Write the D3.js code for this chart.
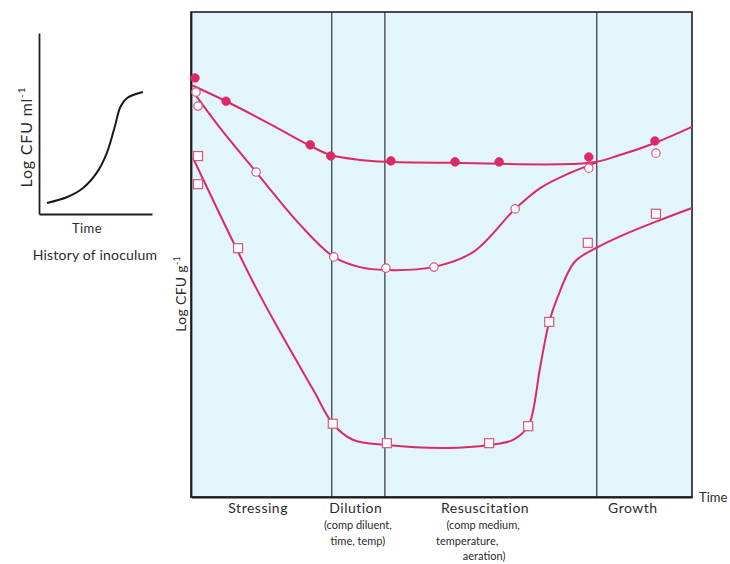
<!DOCTYPE html>
<html>
<head>
<meta charset="utf-8">
<script src="https://cdn.jsdelivr.net/npm/d3@7"></script>
<style>
  html, body { margin: 0; padding: 0; background: #ffffff; }
  svg { display: block; }
  text { font-family: Lato, "DejaVu Sans", sans-serif; fill: #2b2b2b; }
</style>
</head>
<body>
<svg id="chart" width="730" height="564"></svg>
<script>
// ---------------- DATA ----------------
// Main chart: time (0-100) vs log CFU/g (0-10)
const phaseBounds = [28.1, 38.7, 81.0];
const phaseLabels = [
  { x: 13.4, lines: ["Stressing"] },
  { x: 32.9, lines: ["Dilution", "(comp diluent,", "time, temp)"] },
  { x: 58.7, lines: ["Resuscitation", "(comp medium,", "temperature,", "aeration)"] },
  { x: 88.2, lines: ["Growth"] }
];

// Series 1: filled circles
const filledX = [0.8, 7.0, 23.8, 27.9, 39.9, 52.7, 61.5, 79.4, 92.6];
const filledY = [8.64, 8.16, 7.26, 7.03, 6.93, 6.91, 6.91, 7.01, 7.34];
const filledCurveX = [0.2, 7.0, 15.8, 23.8, 27.9, 33.7, 38.9, 51.7, 79.6, 85.6, 92.6, 100];
const filledCurveY = [8.49, 8.16, 7.69, 7.24, 7.05, 6.95, 6.91, 6.89, 6.89, 7.05, 7.30, 7.63];

// Series 2: open circles
const openX = [1.0, 1.4, 13.0, 28.5, 38.9, 48.5, 64.7, 79.4, 92.8];
const openY = [8.35, 8.06, 6.70, 4.95, 4.72, 4.74, 5.94, 6.78, 7.09];
const openCurveX = [0.2, 5.8, 13.0, 21.8, 28.5, 33.7, 38.9, 48.3, 56.3, 64.7, 69.7, 75.6, 80.8];
const openCurveY = [8.39, 7.61, 6.70, 5.61, 4.95, 4.74, 4.68, 4.74, 5.05, 5.94, 6.37, 6.68, 6.89];

// Series 3: open squares
const squareX = [1.4, 1.4, 9.4, 28.3, 39.1, 59.5, 67.3, 71.5, 79.2, 92.8];
const squareY = [7.03, 6.45, 5.13, 1.51, 1.11, 1.11, 1.46, 3.61, 5.24, 5.84];
const squareCurveX = [0.4, 12.2, 17.8, 24.4, 28.3, 32.3, 39.1, 51.1, 59.5, 64.3, 67.3, 68.3, 69.7, 71.5, 73.1, 76.6, 80.8, 86.2, 93.6, 100];
const squareCurveY = [6.99, 4.47, 3.40, 2.21, 1.51, 1.18, 1.07, 1.01, 1.07, 1.18, 1.46, 1.79, 2.68, 3.61, 4.10, 4.85, 5.13, 5.40, 5.71, 5.96];

// Inset: history of inoculum (growth curve)
const insetX = [0.7, 2.5, 3.9, 5.1, 6.0, 6.7, 7.2, 7.8, 9.2];
const insetY = [0.61, 0.94, 1.44, 2.27, 3.37, 4.81, 5.91, 6.41, 6.74];

// ---------------- DRAW ----------------
const pink = "#dc2a66";
const svg = d3.select("#chart");

// Main scales
const x = d3.scaleLinear().domain([0, 100]).range([191, 692]);
const y = d3.scaleLinear().domain([0, 10]).range([497, 12]);

// background
svg.append("rect")
  .attr("x", x(0)).attr("y", y(10))
  .attr("width", x(100) - x(0)).attr("height", y(0) - y(10))
  .attr("fill", "#e1f5fa");

// phase dividers
svg.selectAll(".divider").data(phaseBounds).enter().append("line")
  .attr("x1", d => x(d)).attr("x2", d => x(d))
  .attr("y1", y(10)).attr("y2", y(0))
  .attr("stroke", "#222").attr("stroke-width", 1.1);

// frame: top & right
svg.append("rect")
  .attr("x", x(0)).attr("y", y(10))
  .attr("width", x(100) - x(0)).attr("height", y(0) - y(10))
  .attr("fill", "none").attr("stroke", "#1e1e1e").attr("stroke-width", 1.6);

// axes (no ticks)
svg.append("g").attr("transform", `translate(0,${y(0)})`)
  .call(d3.axisBottom(x).tickValues([]).tickSizeOuter(0))
  .select(".domain").attr("stroke", "#1e1e1e").attr("stroke-width", 1.8);
svg.append("g").attr("transform", `translate(${x(0)},0)`)
  .call(d3.axisLeft(y).tickValues([]).tickSizeOuter(0))
  .select(".domain").attr("stroke", "#1e1e1e").attr("stroke-width", 1.8);

// curves
const line = d3.line().x(d => x(d[0])).y(d => y(d[1])).curve(d3.curveCatmullRom.alpha(0.5));
const zip = (a, b) => a.map((v, i) => [v, b[i]]);

[[filledCurveX, filledCurveY], [openCurveX, openCurveY], [squareCurveX, squareCurveY]].forEach(([cx, cy]) => {
  svg.append("path").datum(zip(cx, cy))
    .attr("d", line)
    .attr("fill", "none").attr("stroke", pink).attr("stroke-width", 2);
});

// markers
svg.selectAll(".filled").data(zip(filledX, filledY)).enter().append("circle")
  .attr("cx", d => x(d[0])).attr("cy", d => y(d[1])).attr("r", 4.3)
  .attr("fill", pink).attr("stroke", pink).attr("stroke-width", 0.8);

svg.selectAll(".open").data(zip(openX, openY)).enter().append("circle")
  .attr("cx", d => x(d[0])).attr("cy", d => y(d[1])).attr("r", 4.2)
  .attr("fill", "#ffffff").attr("stroke", "#d9557f").attr("stroke-width", 1.2);

svg.selectAll(".sq").data(zip(squareX, squareY)).enter().append("rect")
  .attr("x", d => x(d[0]) - 4.5).attr("y", d => y(d[1]) - 4.5)
  .attr("width", 9).attr("height", 9)
  .attr("fill", "#ffffff").attr("stroke", "#d9557f").attr("stroke-width", 1.2);

// "Time" label at end of axis
svg.append("text").attr("x", x(100) + 7).attr("y", y(0) + 5)
  .attr("font-size", 13).text("Time");

// Y axis label
const yl = svg.append("text")
  .attr("transform", `translate(${x(0) - 5},${y(4.19)}) rotate(-90)`)
  .attr("text-anchor", "middle").attr("font-size", 14).attr("letter-spacing", 0.3);
yl.append("tspan").text("Log CFU g");
yl.append("tspan").attr("dy", -6).attr("font-size", 9).text("-1");

// Phase labels
const lineBase = [513, 529, 544.5, 559.5];
const lineShift = {
  "(comp diluent,": 2, "time, temp)": 2,
  "(comp medium,": -2, "temperature,": -18, "aeration)": -1
};
phaseLabels.forEach(p => {
  const t = svg.append("text").attr("text-anchor", "middle");
  p.lines.forEach((l, i) => {
    t.append("tspan")
      .attr("x", x(p.x) + (lineShift[l] || 0))
      .attr("y", lineBase[i])
      .attr("font-size", i === 0 ? 14 : 11)
      .attr("letter-spacing", i === 0 ? 0.5 : 0)
      .text(l);
  });
});

// ---------------- INSET ----------------
const ix = d3.scaleLinear().domain([0, 10]).range([39, 152]);
const iy = d3.scaleLinear().domain([0, 10]).range([214, 33]);

svg.append("g").attr("transform", `translate(0,${iy(0)})`)
  .call(d3.axisBottom(ix).tickValues([]).tickSizeOuter(0))
  .select(".domain").attr("stroke", "#1e1e1e").attr("stroke-width", 1.8);
svg.append("g").attr("transform", `translate(${ix(0)},0)`)
  .call(d3.axisLeft(iy).tickValues([]).tickSizeOuter(0))
  .select(".domain").attr("stroke", "#1e1e1e").attr("stroke-width", 1.8);

svg.append("path").datum(zip(insetX, insetY))
  .attr("d", d3.line().x(d => ix(d[0])).y(d => iy(d[1])).curve(d3.curveCatmullRom.alpha(0.5)))
  .attr("fill", "none").attr("stroke", "#1a1a1a").attr("stroke-width", 2);

svg.append("text").attr("x", 87).attr("y", 233).attr("text-anchor", "middle")
  .attr("font-size", 13).attr("letter-spacing", 0.4).text("Time");
svg.append("text").attr("x", 95).attr("y", 260).attr("text-anchor", "middle")
  .attr("font-size", 14).attr("letter-spacing", 0.2).text("History of inoculum");

const il = svg.append("text")
  .attr("transform", `translate(32,${iy(4.25)}) rotate(-90)`)
  .attr("text-anchor", "middle").attr("font-size", 16).attr("letter-spacing", 0.8);
il.append("tspan").text("Log CFU ml");
il.append("tspan").attr("dy", -7).attr("font-size", 10).text("-1");
</script>
</body>
</html>
